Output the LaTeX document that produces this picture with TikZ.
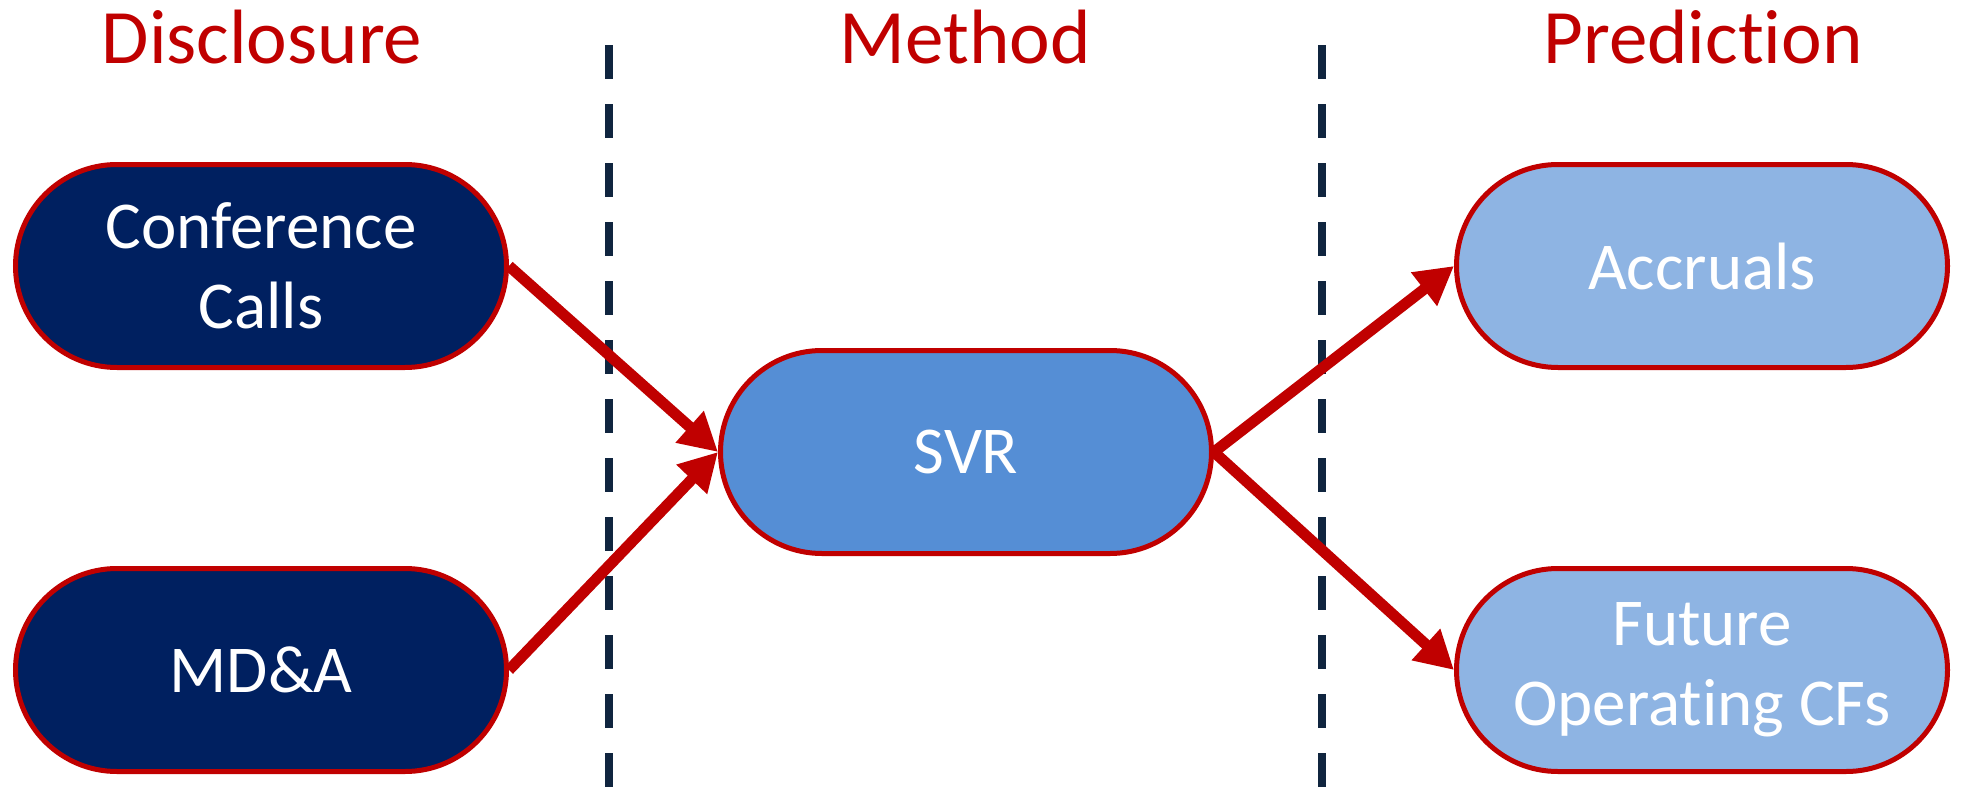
\documentclass[tikz,border=0pt]{standalone}
\usepackage{fontspec}
\setmainfont{Carlito}[RawFeature={-liga,-clig,-dlig}]
\usetikzlibrary{arrows.meta}
\definecolor{darkred}{HTML}{C00000}
\definecolor{navyfill}{HTML}{002060}
\definecolor{svrfill}{HTML}{558ED5}
\definecolor{lightfill}{HTML}{8EB4E3}
\definecolor{dashcol}{HTML}{10253F}
\tikzset{
  pill/.style={draw=darkred, line width=5pt, minimum width=491pt, minimum height=203pt,
    rounded corners=101.5pt, align=center, text=white, inner sep=0pt,
    font=\fontsize{67}{80}\selectfont},
  title/.style={text=darkred, font=\fontsize{77}{90}\selectfont, anchor=base, inner sep=0pt},
  flow/.style={draw=darkred, line width=11pt, -{Triangle[length=38pt,width=40pt]}},
  divider/.style={draw=dashcol, line width=8pt, dash pattern=on 34pt off 25pt}
}
\begin{document}
\begin{tikzpicture}[x=1pt,y=-1pt]
\useasboundingbox[fill=white] (0,0) rectangle (1963,795);
% titles
\node[title] (t1) at (262,63) {Disclosure};
\node[title] (t2) at (965,63) {Method};
\node[title] (t3) at (1703,63) {Prediction};
% dividers
\draw[divider] (609,45) -- (609,800);
\draw[divider] (1322,45) -- (1322,800);
% nodes
\node[pill, fill=navyfill] (cc) at (261,266) {Conference\\Calls};
\node[pill, fill=navyfill] (mda) at (261,670) {MD\&A};
\node[pill, fill=svrfill] (svr) at (966,452) {SVR};
\node[pill, fill=lightfill] (acc) at (1702,266) {Accruals};
\node[pill, fill=lightfill] (fut) at (1702,670) {Future\\Operating CFs};
% connectors
\draw[flow] (cc.east) -- (svr.west);
\draw[flow] (mda.east) -- (svr.west);
\draw[flow] (svr.east) -- (acc.west);
\draw[flow] (svr.east) -- (fut.west);
\end{tikzpicture}
\end{document}
